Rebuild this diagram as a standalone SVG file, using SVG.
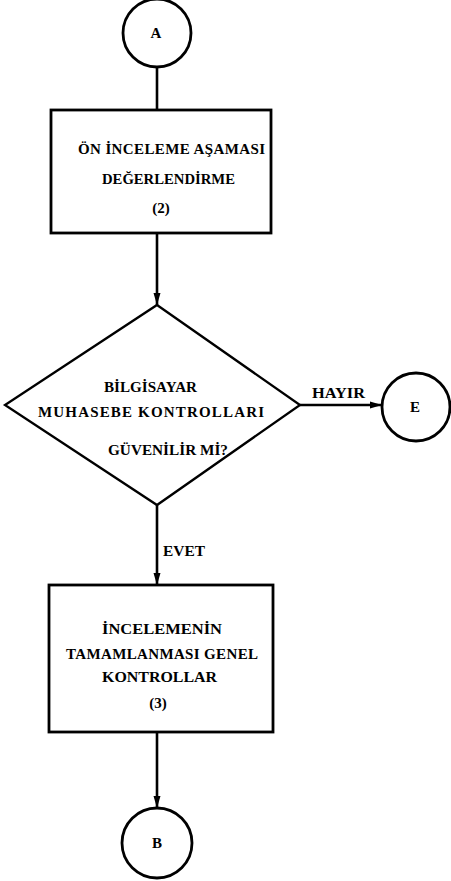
<svg xmlns="http://www.w3.org/2000/svg" width="451" height="881" viewBox="0 0 451 881">
  <defs>
    <marker id="arrow" viewBox="0 0 12 8" refX="12" refY="4" markerWidth="12" markerHeight="8" markerUnits="userSpaceOnUse" orient="auto">
      <path d="M0,0.5 L12,4 L0,7.5 Z" fill="#000"/>
    </marker>
    <style>
      .shape { fill: #fff; stroke: #000; stroke-width: 2.8; }
      .dia { fill: #fff; stroke: #000; stroke-width: 2.3; }
      .edge { fill: none; stroke: #000; stroke-width: 2.6; }
      .lbl { font-family: "Liberation Serif", "Times New Roman", serif; font-weight: bold; font-size: 15px; fill: #000; }
      .mid { text-anchor: middle; }
    </style>
  </defs>

  <!-- connectors -->
  <g id="connectors">
    <line class="edge" x1="157" y1="67" x2="157" y2="110"/>
    <line class="edge" x1="157" y1="233" x2="157" y2="305" marker-end="url(#arrow)"/>
    <line class="edge" x1="300" y1="405" x2="382" y2="405" marker-end="url(#arrow)"/>
    <line class="edge" x1="157" y1="505" x2="157" y2="585" marker-end="url(#arrow)"/>
    <line class="edge" x1="157" y1="732" x2="157" y2="808" marker-end="url(#arrow)"/>
    <text class="lbl" x="312" y="398" textLength="53" lengthAdjust="spacingAndGlyphs">HAYIR</text>
    <text class="lbl" x="163" y="556" textLength="42" lengthAdjust="spacingAndGlyphs">EVET</text>
  </g>

  <!-- start connector A -->
  <g id="node-a">
    <circle class="shape" cx="157" cy="33" r="34"/>
    <text class="lbl mid" x="156" y="38">A</text>
  </g>

  <!-- preliminary review step -->
  <g id="node-review">
    <rect class="shape" x="51" y="110" width="220" height="123"/>
    <text class="lbl" x="78" y="154" textLength="187" lengthAdjust="spacing">ÖN İNCELEME AŞAMASI</text>
    <text class="lbl" x="102" y="184" textLength="133" lengthAdjust="spacingAndGlyphs">DEĞERLENDİRME</text>
    <text class="lbl mid" x="161" y="213">(2)</text>
  </g>

  <!-- decision -->
  <g id="node-decision">
    <polygon class="dia" points="157,305 300,405 157,505 5,405"/>
    <text class="lbl" x="104" y="392" textLength="93" lengthAdjust="spacingAndGlyphs">BİLGİSAYAR</text>
    <text class="lbl" x="38" y="417" textLength="226" lengthAdjust="spacing">MUHASEBE KONTROLLARI</text>
    <text class="lbl" x="108" y="455" textLength="120" lengthAdjust="spacingAndGlyphs">GÜVENİLİR Mİ?</text>
  </g>

  <!-- off-page connector E -->
  <g id="node-e">
    <circle class="shape" cx="416" cy="407" r="34"/>
    <text class="lbl mid" x="415" y="412">E</text>
  </g>

  <!-- completion step -->
  <g id="node-complete">
    <rect class="shape" x="49" y="585" width="224" height="147"/>
    <text class="lbl" x="102" y="634" textLength="120" lengthAdjust="spacingAndGlyphs">İNCELEMENİN</text>
    <text class="lbl" x="66" y="659" textLength="192" lengthAdjust="spacing">TAMAMLANMASI GENEL</text>
    <text class="lbl" x="102" y="682" textLength="115" lengthAdjust="spacingAndGlyphs">KONTROLLAR</text>
    <text class="lbl mid" x="158" y="708">(3)</text>
  </g>

  <!-- connector B -->
  <g id="node-b">
    <circle class="shape" cx="157" cy="843" r="35"/>
    <text class="lbl mid" x="157" y="848">B</text>
  </g>
</svg>
